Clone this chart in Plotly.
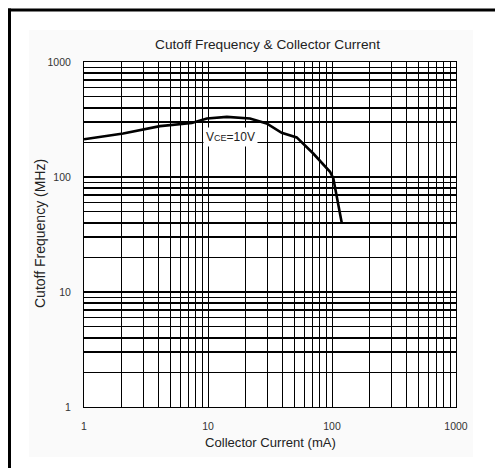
import plotly.graph_objects as go
import numpy as np

# ---- data ----
collector_current_mA = [1.0, 2.07, 4.1, 7.4, 9.8, 14.2, 21.8, 29.7, 39.3, 51.9, 70.6, 96.4, 102.5, 120.0]
cutoff_freq_MHz = [213, 239, 277, 295, 323, 333, 323, 292, 242, 221, 160, 111, 97, 39.6]

x_tick_labels = ["1", "10", "100", "1000"]
y_tick_labels = ["1", "10", "100", "1000"]
curve_label = "V<span style='font-size:9px'>CE</span>=10V"

title_text = "Cutoff Frequency & Collector Current"
x_title = "Collector Current (mA)"
y_title = "Cutoff Frequency (MHz)"

# ---- layout geometry (pixels) ----
W, H = 495, 468
L, R, T, B = 84, 456, 62, 407


def px(xp):
    return (xp - L) / (R - L)


def py(yp):
    return (B - yp) / (B - T)


def minor_vals(decades, labels):
    vals, texts = [], []
    for d in range(decades):
        for k in range(1, 10):
            vals.append(k * 10 ** d)
            texts.append(labels[d] if k == 1 else "")
    vals.append(10 ** decades)
    texts.append(labels[decades])
    return vals, texts


xv, xt = minor_vals(3, x_tick_labels)
yv, yt = minor_vals(3, y_tick_labels)

tick_font = dict(family="Liberation Sans Narrow, Arial Narrow, Liberation Sans, Arial", size=10.5, color="#333333")
text_font = dict(family="Liberation Sans, Arial", color="#222222")

fig = go.Figure()
fig.add_trace(go.Scatter(
    x=collector_current_mA, y=cutoff_freq_MHz, mode="lines",
    line=dict(color="black", width=2.6), hoverinfo="skip", showlegend=False,
))

fig.update_layout(
    width=W, height=H,
    margin=dict(l=L, r=W - R, t=T, b=H - B, pad=0),
    paper_bgcolor="white", plot_bgcolor="white",
    showlegend=False,
    xaxis=dict(
        type="log", range=[0, 3], tickmode="array", tickvals=xv, ticktext=xt,
        showgrid=True, gridcolor="black", gridwidth=1,
        showline=True, linecolor="black", linewidth=1, mirror=True,
        ticks="", tickfont=tick_font, ticklabelstandoff=9, zeroline=False,
        fixedrange=True,
    ),
    yaxis=dict(
        type="log", range=[0, 3], tickmode="array", tickvals=yv, ticktext=yt,
        showgrid=True, gridcolor="black", gridwidth=1.5,
        showline=True, linecolor="black", linewidth=1, mirror=True,
        ticks="", tickfont=tick_font, ticklabelstandoff=10, zeroline=False,
        fixedrange=True,
    ),
    shapes=[
        # light panel
        dict(type="rect", xref="paper", yref="paper", layer="below",
             x0=px(29), x1=px(473), y0=py(457), y1=py(30),
             fillcolor="#fafafa", line=dict(width=0)),
        # white plot area
        dict(type="rect", xref="paper", yref="paper", layer="below",
             x0=0, x1=1, y0=0, y1=1, fillcolor="white", line=dict(width=0)),
        # outer frame: top and left edges
        dict(type="line", xref="paper", yref="paper", layer="above",
             x0=px(8), x1=px(W), y0=py(10), y1=py(10),
             line=dict(color="black", width=3)),
        dict(type="line", xref="paper", yref="paper", layer="above",
             x0=px(9.5), x1=px(9.5), y0=py(8.5), y1=py(H),
             line=dict(color="black", width=3)),
    ],
    annotations=[
        dict(text=title_text, xref="paper", yref="paper", x=px(267), y=py(45),
             xanchor="center", yanchor="middle", showarrow=False,
             font=dict(size=13.7, **text_font)),
        dict(text=x_title, xref="paper", yref="paper", x=px(270.5), y=py(442),
             xanchor="center", yanchor="middle", showarrow=False,
             font=dict(size=13.1, **text_font)),
        dict(text=y_title, xref="paper", yref="paper", x=px(40), y=py(234),
             xanchor="center", yanchor="middle", showarrow=False, textangle=-90,
             font=dict(size=14, **text_font)),
        dict(text=curve_label, xref="x", yref="y",
             x=np.log10(15.3), y=np.log10(225),
             xanchor="center", yanchor="middle", showarrow=False,
             bgcolor="white", borderpad=2,
             font=dict(size=12, family="Liberation Sans Narrow, Arial Narrow, Liberation Sans, Arial", color="#222222")),
    ],
)

fig.write_html(
    "out.html",
    config={"displayModeBar": False, "staticPlot": True},
    post_script=(
        "document.documentElement.style.margin='0';"
        "document.documentElement.style.overflow='hidden';"
        "document.body.style.margin='0';document.body.style.overflow='hidden';"
    ),
)
